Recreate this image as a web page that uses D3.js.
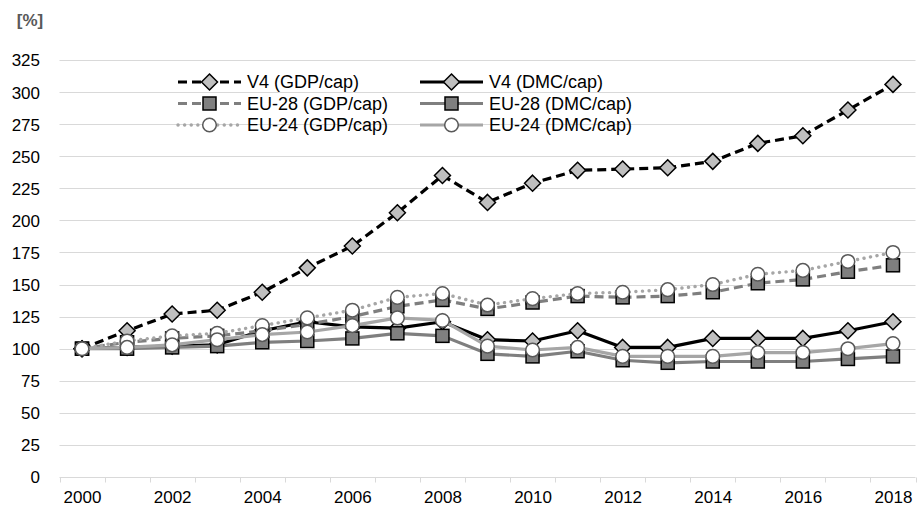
<!DOCTYPE html>
<html>
<head>
<meta charset="utf-8">
<script src="https://cdn.jsdelivr.net/npm/d3@7"></script>
<style>
html,body{margin:0;padding:0;background:#fff;}
svg{display:block;font-family:"Liberation Sans",Arial,sans-serif;}
</style>
</head>
<body>
<svg id="chart" width="917" height="515"></svg>
<script>
const years = [2000,2001,2002,2003,2004,2005,2006,2007,2008,2009,2010,2011,2012,2013,2014,2015,2016,2017,2018];
const xTickLabels = [2000,2002,2004,2006,2008,2010,2012,2014,2016,2018];
const yTicks = [0,25,50,75,100,125,150,175,200,225,250,275,300,325];
const v4Gdp   = [100,114,127,130,144,163,180,206,235,214,229,239,240,241,246,260,266,286,306];
const v4Dmc   = [100,101,102,103,114,121,117,116,121,107,106,114,101,101,108,108,108,114,121];
const eu28Gdp = [100,105,108,110,114,119,125,133,138,131,136,141,140,141,144,151,154,160,165];
const eu28Dmc = [100,100,101,102,105,106,108,112,110,96,94,98,91,89,90,90,90,92,94];
const eu24Gdp = [100,106,110,112,118,124,130,140,143,134,139,143,144,146,150,158,161,168,175];
const eu24Dmc = [100,101,103,107,111,113,118,124,122,102,99,101,94,94,94,97,97,100,104];
const seriesNames = ["V4 (GDP/cap)","V4 (DMC/cap)","EU-28 (GDP/cap)","EU-28 (DMC/cap)","EU-24 (GDP/cap)","EU-24 (DMC/cap)"];

const series = [
  {name:seriesNames[0], values:v4Gdp,   stroke:"#000000", width:3.2, dash:"9,5", cap:"butt", marker:"diamond"},
  {name:seriesNames[1], values:v4Dmc,   stroke:"#000000", width:3.2, dash:null,  cap:"butt", marker:"diamond"},
  {name:seriesNames[2], values:eu28Gdp, stroke:"#7f7f7f", width:3.2, dash:"9,5", cap:"butt", marker:"square"},
  {name:seriesNames[3], values:eu28Dmc, stroke:"#7f7f7f", width:3.2, dash:null,  cap:"butt", marker:"square"},
  {name:seriesNames[4], values:eu24Gdp, stroke:"#a6a6a6", width:3.4, dash:"0.1,6.5", cap:"round", marker:"circle"},
  {name:seriesNames[5], values:eu24Dmc, stroke:"#a6a6a6", width:3.2, dash:null,  cap:"butt", marker:"circle"}
];

const svg = d3.select("#chart");
const plotLeft = 59.5, plotRight = 915.5, plotTop = 60, plotBottom = 477;

const xBand = d3.scaleBand().domain(years).range([plotLeft, plotRight]);
const x = d3.scalePoint().domain(years).range([plotLeft, plotRight]).padding(0.5);
const y = d3.scaleLinear().domain([0, 325]).range([plotBottom, plotTop]);

// gridlines
svg.append("g").selectAll("line").data(yTicks.filter(d => d > 0)).join("line")
  .attr("x1", plotLeft).attr("x2", plotRight)
  .attr("y1", d => Math.round(y(d)) + 0.5).attr("y2", d => Math.round(y(d)) + 0.5)
  .attr("stroke", "#d9d9d9").attr("stroke-width", 1);

// y axis labels
const yAxis = d3.axisLeft(y).tickValues(yTicks).tickSize(0).tickPadding(0);
const gy = svg.append("g").attr("transform", `translate(40,0)`).call(yAxis);
gy.select(".domain").remove();
gy.selectAll("text").attr("font-size", 17).attr("fill", "#000").attr("font-family", "Liberation Sans, Arial, sans-serif").attr("dy", "0.35em");

// x axis
const gx = svg.append("g").attr("transform", `translate(0,${Math.round(plotBottom)+0.5})`);
gx.append("line").attr("x1", plotLeft).attr("x2", plotRight).attr("stroke", "#d9d9d9").attr("stroke-width", 1);
const boundaries = years.map(d => xBand(d)).concat([xBand(years[years.length-1]) + xBand.bandwidth()]);
gx.selectAll("line.tick").data(boundaries).join("line").attr("class","tick")
  .attr("x1", d => Math.round(d) + 0.5).attr("x2", d => Math.round(d) + 0.5)
  .attr("y1", 0).attr("y2", 5).attr("stroke", "#d9d9d9").attr("stroke-width", 1);
const xAxis = d3.axisBottom(x).tickValues(xTickLabels).tickSize(0).tickPadding(0).tickFormat(d3.format("d"));
const gxl = svg.append("g").attr("transform", `translate(0,${plotBottom + 14})`).call(xAxis);
gxl.select(".domain").remove();
gxl.selectAll("text").attr("font-size", 17).attr("fill", "#000").attr("font-family", "Liberation Sans, Arial, sans-serif");

// unit label
svg.append("text").attr("x", 30).attr("y", 26).attr("text-anchor", "middle")
  .attr("font-size", 17).attr("font-weight", "bold").attr("fill", "#595959").text("[%]");

function drawMarker(g, type, cx, cy) {
  if (type === "diamond") {
    const r = 8;
    g.append("path").attr("d", `M${cx},${cy-r}L${cx+r},${cy}L${cx},${cy+r}L${cx-r},${cy}Z`)
      .attr("fill", "#bfbfbf").attr("stroke", "#000").attr("stroke-width", 1.5);
  } else if (type === "square") {
    const s = 13;
    g.append("rect").attr("x", cx - s/2).attr("y", cy - s/2).attr("width", s).attr("height", s)
      .attr("fill", "#7f7f7f").attr("stroke", "#000").attr("stroke-width", 1.5);
  } else {
    g.append("circle").attr("cx", cx).attr("cy", cy).attr("r", 6.8)
      .attr("fill", "#fff").attr("stroke", "#595959").attr("stroke-width", 1.5);
  }
}

const line = d3.line().x((d,i) => x(years[i])).y(d => y(d));

series.forEach(s => {
  const g = svg.append("g");
  g.append("path").attr("d", line(s.values)).attr("fill", "none")
    .attr("stroke", s.stroke).attr("stroke-width", s.width)
    .attr("stroke-dasharray", s.dash).attr("stroke-linecap", s.cap).attr("stroke-linejoin", "round");
  s.values.forEach((v, i) => drawMarker(g, s.marker, x(years[i]), y(v)));
});

// legend
const legCols = [178, 420];
const legRows = [82, 103.5, 125];
series.forEach((s, i) => {
  const col = i % 2, row = Math.floor(i / 2);
  const lx = legCols[col], ly = legRows[row];
  const g = svg.append("g");
  g.append("line").attr("x1", lx).attr("x2", lx + 63).attr("y1", ly).attr("y2", ly)
    .attr("stroke", s.stroke).attr("stroke-width", s.width)
    .attr("stroke-dasharray", s.dash).attr("stroke-linecap", s.cap);
  drawMarker(g, s.marker, lx + 31.5, ly);
  g.append("text").attr("x", lx + 69).attr("y", ly).attr("dy", "0.35em")
    .attr("font-size", 18).attr("fill", "#000").text(s.name);
});
</script>
</body>
</html>
